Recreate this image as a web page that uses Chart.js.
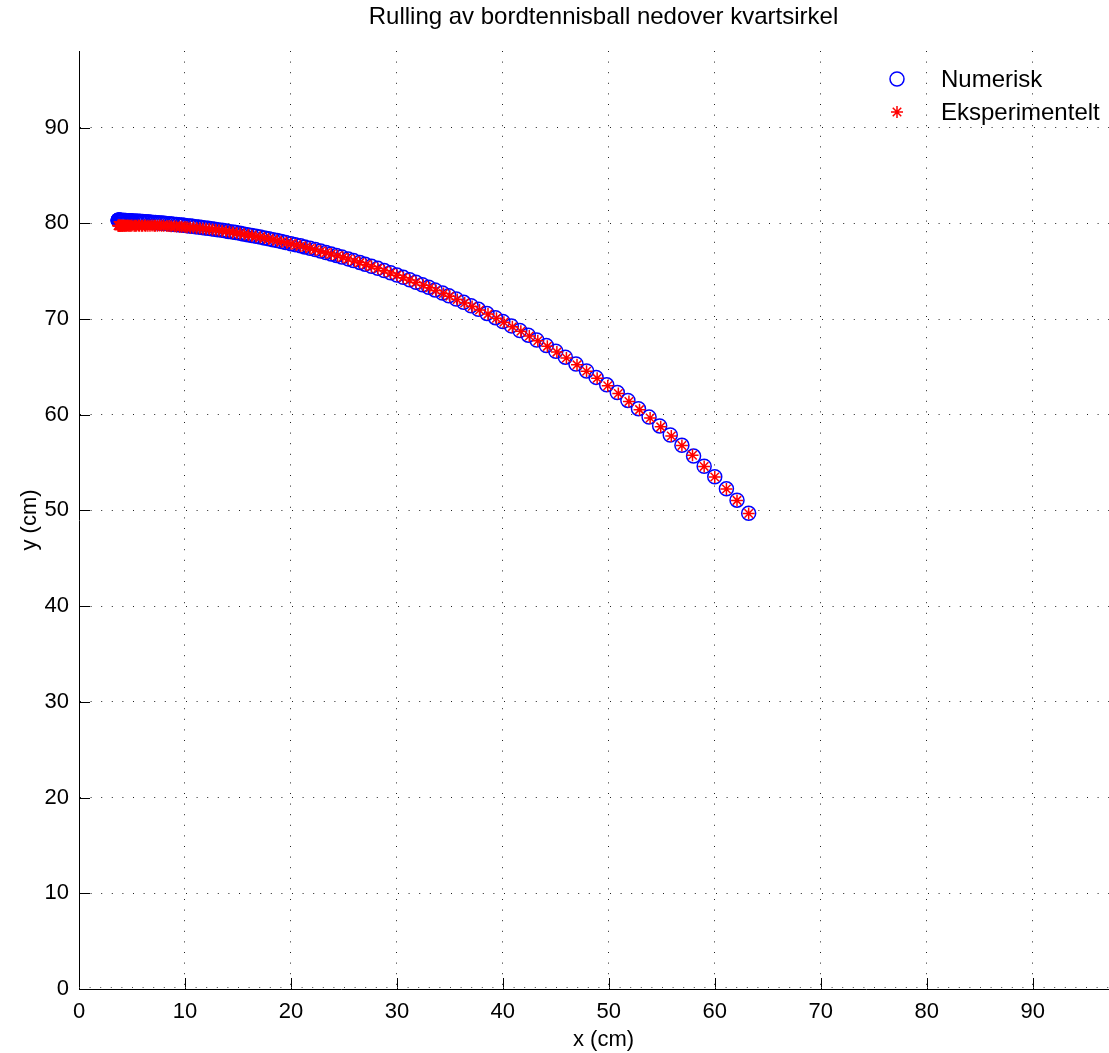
<!DOCTYPE html>
<html>
<head>
<meta charset="utf-8">
<title>Rulling av bordtennisball nedover kvartsirkel</title>
<script src="https://cdn.jsdelivr.net/npm/chart.js@4.4.1/dist/chart.umd.min.js"></script>
<style>
  html, body { margin: 0; padding: 0; overflow: hidden; background: #fff; }
  #wrap { width: 1128px; height: 1053px; }
</style>
</head>
<body>
<div id="wrap"><canvas id="c" width="1128" height="1053"></canvas></div>
<script>
// Simulated path of the ball (cm)
const numX = [
  3.7, 3.7, 3.7, 3.8, 3.8, 3.8, 3.9, 3.9, 4.0, 4.0,
  4.1, 4.2, 4.2, 4.3, 4.4, 4.5, 4.6, 4.7, 4.8, 4.9,
  5.0, 5.1, 5.3, 5.4, 5.5, 5.7, 5.8, 6.0, 6.1, 6.3,
  6.5, 6.6, 6.8, 7.0, 7.2, 7.4, 7.6, 7.8, 8.0, 8.2,
  8.5, 8.7, 8.9, 9.2, 9.4, 9.7, 9.9, 10.2, 10.5, 10.7,
  11.0, 11.3, 11.6, 11.9, 12.2, 12.5, 12.8, 13.1, 13.5, 13.8,
  14.1, 14.5, 14.8, 15.2, 15.5, 15.9, 16.3, 16.7, 17.1, 17.5,
  17.9, 18.3,
  18.7, 19.1, 19.5, 20.0, 20.4, 20.9, 21.3, 21.8, 22.3, 22.8,
  23.3, 23.8, 24.3, 24.8, 25.4, 25.9, 26.5, 27.0, 27.6, 28.2,
  28.8, 29.4, 30.0, 30.6, 31.2, 31.8, 32.4, 33.0, 33.6, 34.3,
  34.9, 35.6, 36.3, 37.0, 37.7, 38.5, 39.3, 40.0, 40.8, 41.6,
  42.4, 43.2, 44.1, 45.0, 45.9, 46.9, 47.9, 48.8, 49.8, 50.8,
  51.8, 52.8, 53.8, 54.8, 55.8, 56.9, 58.0, 59.0, 60.0, 61.1,
  62.1, 63.2
];
const numY = [
  80.32, 80.32, 80.32, 80.31, 80.31, 80.31, 80.31, 80.31, 80.30, 80.30,
  80.30, 80.29, 80.29, 80.28, 80.28, 80.27, 80.27, 80.26, 80.26, 80.25,
  80.24, 80.24, 80.22, 80.22, 80.21, 80.20, 80.19, 80.18, 80.17, 80.15,
  80.14, 80.13, 80.11, 80.09, 80.08, 80.06, 80.04, 80.02, 80.00, 79.98,
  79.95, 79.93, 79.91, 79.87, 79.85, 79.81, 79.79, 79.75, 79.71, 79.68,
  79.64, 79.60, 79.56, 79.51, 79.47, 79.42, 79.37, 79.33, 79.26, 79.21,
  79.15, 79.08, 79.03, 78.95, 78.89, 78.81, 78.73, 78.65, 78.56, 78.47,
  78.38, 78.29,
  78.20, 78.10, 78.00, 77.87, 77.77, 77.64, 77.53, 77.39, 77.25, 77.10,
  76.95, 76.80, 76.64, 76.48, 76.28, 76.11, 75.91, 75.73, 75.51, 75.29,
  75.06, 74.83, 74.59, 74.35, 74.10, 73.84, 73.58, 73.32, 73.04, 72.72,
  72.43, 72.09, 71.74, 71.38, 71.01, 70.58, 70.14, 69.74, 69.28, 68.80,
  68.31, 67.81, 67.23, 66.63, 66.01, 65.30, 64.57, 63.90, 63.12, 62.32,
  61.49, 60.63, 59.75, 58.83, 57.88, 56.80, 55.68, 54.62, 53.52, 52.26,
  51.07, 49.70
];

// Measured path of the ball (cm)
const expX = [
  3.7, 3.7, 3.8, 3.8, 3.8, 3.9, 3.9, 4.0, 4.0, 4.1,
  4.1, 4.2, 4.3, 4.3, 4.4, 4.5, 4.6, 4.7, 4.8, 4.9,
  5.0, 5.2, 5.3, 5.4, 5.6, 5.7, 5.9, 6.0, 6.2, 6.3,
  6.5, 6.7, 6.9, 7.1, 7.2, 7.4, 7.6, 7.8, 8.0, 8.3,
  8.5, 8.7, 9.0, 9.2, 9.5, 9.7, 10.0, 10.2, 10.5, 10.8,
  11.1, 11.4, 11.7, 12.0, 12.3, 12.6, 12.9, 13.2, 13.5, 13.9,
  14.2, 14.5, 14.9, 15.2, 15.6, 16.0, 16.3, 16.7, 17.1, 17.5,
  17.9, 18.3,
  18.7, 19.1, 19.6, 20.0, 20.5, 20.9, 21.4, 21.8, 22.3, 22.8,
  23.3, 23.8, 24.4, 24.9, 25.4, 26.0, 26.5, 27.1, 27.6, 28.2,
  28.8, 29.4, 30.0, 30.6, 31.2, 31.8, 32.5, 33.1, 33.7, 34.4,
  35.0, 35.7, 36.4, 37.1, 37.8, 38.6, 39.4, 40.1, 40.9, 41.7,
  42.5, 43.3, 44.2, 45.1, 46.0, 47.0, 47.9, 48.9, 49.9, 50.9,
  51.9, 52.9, 53.9, 54.9, 55.9, 56.9, 57.9, 59.0, 60.0, 61.1,
  62.1, 63.2
];
const expY = [
  79.75, 79.76, 79.74, 79.75, 79.76, 79.75, 79.74, 79.75, 79.76, 79.75,
  79.74, 79.75, 79.76, 79.75, 79.74, 79.75, 79.76, 79.75, 79.74, 79.75,
  79.76, 79.75, 79.74, 79.75, 79.76, 79.75, 79.74, 79.75, 79.76, 79.75,
  79.74, 79.75, 79.76, 79.75, 79.74, 79.75, 79.76, 79.74, 79.73, 79.72,
  79.71, 79.70, 79.68, 79.67, 79.65, 79.63, 79.61, 79.59, 79.57, 79.55,
  79.52, 79.49, 79.46, 79.43, 79.40, 79.36, 79.32, 79.28, 79.23, 79.17,
  79.11, 79.05, 78.99, 78.93, 78.86, 78.78, 78.71, 78.63, 78.54, 78.45,
  78.36, 78.27,
  78.17, 78.07, 77.97, 77.85, 77.74, 77.62, 77.50, 77.37, 77.23, 77.08,
  76.93, 76.78, 76.61, 76.44, 76.26, 76.07, 75.89, 75.68, 75.49, 75.27,
  75.04, 74.81, 74.57, 74.32, 74.07, 73.81, 73.53, 73.26, 72.98, 72.66,
  72.37, 72.03, 71.68, 71.31, 70.94, 70.51, 70.07, 69.67, 69.20, 68.72,
  68.23, 67.72, 67.14, 66.54, 65.92, 65.21, 64.54, 63.80, 63.02, 62.22,
  61.39, 60.53, 59.65, 58.73, 57.78, 56.78, 55.77, 54.60, 53.50, 52.24,
  51.05, 49.68
];

const seriesLabels = ['Numerisk', 'Eksperimentelt'];
const xTicks = [0, 10, 20, 30, 40, 50, 60, 70, 80, 90];
const yTicks = [0, 10, 20, 30, 40, 50, 60, 70, 80, 90];
const xRange = [0, 99];
const yRange = [0, 98];

const FONT = "'Liberation Sans', Arial, Helvetica, sans-serif";
const GRID_DASH = [1, 9.6];

const toPoints = (xs, ys) => xs.map((x, i) => ({ x: x, y: ys[i] }));

// Inward tick marks, the dotted y = 0 grid line just above the axis,
// and a boxless legend in the upper right corner of the axes
const axesDecor = {
  id: 'axesDecor',
  afterDraw(chart) {
    const ctx = chart.ctx;
    const xs = chart.scales.x, ys = chart.scales.y;
    const area = chart.chartArea;
    ctx.save();
    ctx.strokeStyle = '#000';
    ctx.lineWidth = 1;
    ctx.beginPath();
    xTicks.forEach(v => {
      const px = Math.round(xs.getPixelForValue(v)) + 0.5;
      ctx.moveTo(px, area.bottom);
      ctx.lineTo(px, area.bottom - 11);
    });
    yTicks.forEach(v => {
      const py = Math.round(ys.getPixelForValue(v)) + 0.5;
      ctx.moveTo(area.left, py);
      ctx.lineTo(area.left + 11, py);
    });
    ctx.stroke();

    ctx.strokeStyle = '#444';
    ctx.setLineDash(GRID_DASH);
    ctx.beginPath();
    const yb = Math.round(area.bottom) - 1.5;
    ctx.moveTo(area.left, yb);
    ctx.lineTo(area.right, yb);
    ctx.stroke();
    ctx.setLineDash([]);

    // legend
    const items = [chart.data.datasets[0], chart.data.datasets[1]];
    const mx = 897, tx = 941, rowY = [79, 112];
    items.forEach((ds, i) => {
      ctx.save();
      ctx.strokeStyle = ds.pointBorderColor;
      ctx.fillStyle = 'rgba(0,0,0,0)';
      ctx.lineWidth = ds.pointBorderWidth;
      Chart.helpers.drawPoint(ctx, {
        pointStyle: ds.pointStyle,
        radius: ds.pointRadius,
        borderWidth: ds.pointBorderWidth,
        rotation: 0
      }, mx, rowY[i]);
      ctx.restore();
      ctx.fillStyle = '#000';
      ctx.font = '24px ' + FONT;
      ctx.textAlign = 'left';
      ctx.textBaseline = 'middle';
      ctx.fillText(ds.label, tx, rowY[i] + 1);
    });
    ctx.restore();
  }
};

const gridColor = c => (c.tick && c.tick.value === 0) ? 'rgba(0,0,0,0)' : '#222';

new Chart(document.getElementById('c'), {
  type: 'scatter',
  data: {
    datasets: [
      {
        label: seriesLabels[0],
        data: toPoints(numX, numY),
        showLine: false,
        pointStyle: 'circle',
        pointRadius: 7,
        pointBorderWidth: 1.5,
        pointBorderColor: '#0000ff',
        pointBackgroundColor: 'rgba(0,0,0,0)',
        order: 2
      },
      {
        label: seriesLabels[1],
        data: toPoints(expX, expY),
        showLine: false,
        pointStyle: 'star',
        pointRadius: 6,
        pointBorderWidth: 1.5,
        pointBorderColor: '#ff0000',
        pointBackgroundColor: 'rgba(0,0,0,0)',
        order: 1
      }
    ]
  },
  options: {
    responsive: false,
    animation: false,
    devicePixelRatio: 1,
    events: [],
    layout: { padding: 0, autoPadding: false },
    plugins: {
      legend: { display: false },
      tooltip: { enabled: false },
      title: {
        display: true,
        fullSize: false,
        text: 'Rulling av bordtennisball nedover kvartsirkel',
        color: '#000',
        font: { family: FONT, size: 24, weight: 'normal', lineHeight: 1.2 },
        padding: { top: 3, bottom: 19.2 }
      }
    },
    scales: {
      x: {
        type: 'linear',
        position: 'bottom',
        min: xRange[0],
        max: xRange[1],
        afterBuildTicks: s => { s.ticks = xTicks.map(v => ({ value: v })); },
        afterFit: s => { s.height = 64; s.paddingLeft = 0; s.paddingRight = 0; },
        ticks: {
          color: '#000',
          font: { family: FONT, size: 22 },
          padding: 10,
          maxRotation: 0,
          autoSkip: false
        },
        grid: { color: gridColor, lineWidth: 1, drawTicks: false },
        border: { display: true, color: '#000', width: 1, dash: GRID_DASH },
        title: {
          display: true,
          text: 'x (cm)',
          color: '#000',
          font: { family: FONT, size: 22, lineHeight: 1.2 },
          padding: { top: 0, bottom: 0 }
        }
      },
      y: {
        type: 'linear',
        position: 'left',
        min: yRange[0],
        max: yRange[1],
        afterBuildTicks: s => { s.ticks = yTicks.map(v => ({ value: v })); },
        afterFit: s => { s.width = 79; s.paddingTop = 0; s.paddingBottom = 0; },
        ticks: {
          color: '#000',
          font: { family: FONT, size: 22 },
          padding: 10,
          autoSkip: false
        },
        grid: { color: gridColor, lineWidth: 1, drawTicks: false },
        border: { display: true, color: '#000', width: 1, dash: GRID_DASH },
        title: {
          display: true,
          text: 'y (cm)',
          color: '#000',
          font: { family: FONT, size: 22, lineHeight: 1.2 },
          padding: { top: 17, bottom: 0 }
        }
      }
    }
  },
  plugins: [axesDecor]
});
</script>
</body>
</html>
